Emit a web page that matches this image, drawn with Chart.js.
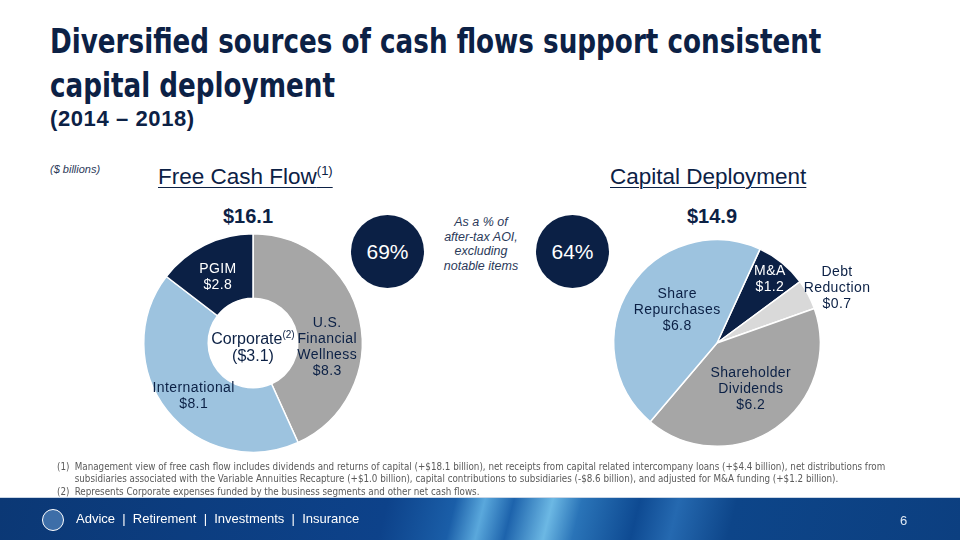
<!DOCTYPE html>
<html lang="en">

<head>
  <meta charset="UTF-8">
  <title>Diversified sources of cash flows</title>
  <script src="https://cdn.jsdelivr.net/npm/chart.js"></script>
  <style>
    body {
      margin: 0;
      width: 960px;
      height: 540px;
      position: relative;
      overflow: hidden;
      background: #fff;
      font-family: "Liberation Sans", Arial, sans-serif;
      color: #0c2145;
    }
    .abs { position: absolute; }
    .title {
      left: 50px; top: 20px;
      font-family: "DejaVu Sans Condensed", "Liberation Sans", sans-serif;
      font-weight: bold; font-size: 33px; line-height: 44px;
      white-space: nowrap;
      transform: scaleX(0.883); transform-origin: left top;
    }
    .subtitle { left: 50px; top: 106px; font-weight: bold; font-size: 22px; letter-spacing: 0.6px; }
    .units { left: 50px; top: 163px; font-style: italic; font-size: 11px; color: #2b3a5a; }
    .head { font-size: 22.5px; text-decoration: underline; text-underline-offset: 3px; text-decoration-thickness: 1px; }
    .head sup { font-size: 13px; vertical-align: 9px; line-height: 0; }
    .total { font-weight: bold; font-size: 20px; width: 100px; text-align: center; }
    .pct {
      width: 73px; height: 73px; border-radius: 50%; background: #0b2045;
      color: #fff; font-size: 21px; line-height: 73px; text-align: center;
    }
    .note { left: 426px; top: 215px; width: 110px; text-align: center; font-style: italic; font-size: 12.5px; line-height: 14.7px; color: #2b3a5a; }
    .corp { left: 203px; top: 330px; width: 100px; text-align: center; font-size: 16px; line-height: 17px; }
    .corp sup { font-size: 10px; vertical-align: 6px; line-height: 0; }
    .foot {
      left: 57px; font-family: "DejaVu Sans Condensed", "Liberation Sans", sans-serif;
      font-size: 11px; line-height: 12.4px; color: #5a5a5a;
      white-space: nowrap;
      transform: scaleX(0.886); transform-origin: left top;
    }
    .foot span { display: inline-block; width: 20px; }
    .band {
      left: 0; top: 497px; width: 960px; height: 43px;
      background: linear-gradient(104deg, #0b3875 0%, #0d428a 40%, #1a5ea8 47%, #5aa8dc 50%, #1d63ac 53%, #6cb8e4 57%, #2a74b8 60%, #0e4a92 66%, #2569b0 70%, #0d4589 76%, #0c3f80 100%);
      border-top: 1px solid #c9d6e6;
    }
    .logo { left: 42px; top: 509px; width: 20px; height: 20px; border-radius: 50%; border: 1.5px solid #fff; background: #3d6ea8; }
    .tag { left: 76px; top: 511px; color: #fff; font-size: 13px; }
    .page { left: 900px; top: 513px; color: #dfe8f3; font-size: 13px; }
  </style>
</head>

<body>
  <div class="abs title">Diversified sources of cash flows support consistent<br>capital deployment</div>
  <div class="abs subtitle">(2014 – 2018)</div>
  <div class="abs units">($ billions)</div>

  <div class="abs head" style="left:158px; top:164px;">Free Cash Flow<sup>(1)</sup></div>
  <div class="abs head" style="left:610px; top:164px;">Capital Deployment</div>

  <div class="abs total" id="fcfTotal" style="left:198px; top:205px;"></div>
  <div class="abs total" id="deployTotal" style="left:662px; top:205px;"></div>

  <div class="abs pct" id="pctLeft" style="left:351px; top:215px;"></div>
  <div class="abs pct" id="pctRight" style="left:536px; top:215px;"></div>
  <div class="abs note">As a % of<br>after-tax AOI,<br>excluding<br>notable items</div>

  <canvas class="abs" id="fcfChart" width="240" height="240" style="left:133px; top:223px;"></canvas>
  <canvas class="abs" id="deployChart" width="290" height="226" style="left:590px; top:230px;"></canvas>

  <div class="abs corp" id="corp"></div>

  <div class="abs foot" style="top:461px;"><span>(1)</span>Management view of free cash flow includes dividends and returns of capital (+$18.1 billion), net receipts from capital related intercompany loans (+$4.4 billion), net distributions from<br><span></span>subsidiaries associated with the Variable Annuities Recapture (+$1.0 billion), capital contributions to subsidiaries (-$8.6 billion), and adjusted for M&amp;A funding (+$1.2 billion).<br><span>(2)</span>Represents Corporate expenses funded by the business segments and other net cash flows.</div>

  <div class="abs band"></div>
  <div class="abs logo"></div>
  <div class="abs tag">Advice &nbsp;|&nbsp; Retirement &nbsp;|&nbsp; Investments &nbsp;|&nbsp; Insurance</div>
  <div class="abs page">6</div>

  <script>
    // Free cash flow by segment ($ billions)
    const fcfCategories = ['U.S. Financial Wellness', 'International', 'PGIM'];
    const fcfValues = [8.3, 8.1, 2.8];
    const fcfTotal = 16.1;
    const corporateValue = -3.1;

    // Capital deployment ($ billions)
    const deployCategories = ['M&A', 'Debt Reduction', 'Shareholder Dividends', 'Share Repurchases'];
    const deployValues = [1.2, 0.7, 6.2, 6.8];
    const deployTotal = 14.9;

    // share of after-tax AOI, excluding notable items
    const aoiShare = [69, 64];

    const navy = '#0b2045';
    const money = v => '$' + v.toFixed(1);

    document.getElementById('fcfTotal').textContent = money(fcfTotal);
    document.getElementById('deployTotal').textContent = money(deployTotal);
    document.getElementById('pctLeft').textContent = aoiShare[0] + '%';
    document.getElementById('pctRight').textContent = aoiShare[1] + '%';
    document.getElementById('corp').innerHTML = 'Corporate<sup>(2)</sup><br>($' + Math.abs(corporateValue).toFixed(1) + ')';

    // draws the category name and value inside (or beside) each slice
    const sliceLabels = {
      id: 'sliceLabels',
      afterDatasetsDraw(chart, args, opts) {
        const ctx = chart.ctx;
        const meta = chart.getDatasetMeta(0);
        meta.data.forEach((arc, i) => {
          const p = opts.place[i];
          const mid = (arc.startAngle + arc.endAngle) / 2 + p.turn * Math.PI / 180;
          const r = arc.outerRadius * p.r;
          const x = arc.x + Math.cos(mid) * r;
          const y = arc.y + Math.sin(mid) * r;
          const lines = opts.lines[i].concat(money(chart.data.datasets[0].data[i]));
          ctx.save();
          ctx.font = '14px "Liberation Sans", Arial, sans-serif';
          ctx.letterSpacing = '0.4px';
          ctx.fillStyle = p.color;
          ctx.textAlign = 'center';
          ctx.textBaseline = 'middle';
          lines.forEach((t, j) => ctx.fillText(t, x, y + (j - (lines.length - 1) / 2) * 16));
          ctx.restore();
        });
      }
    };

    const baseOptions = (padding, extra) => Object.assign({
      responsive: false,
      animation: false,
      layout: { padding: padding },
      plugins: { legend: { display: false }, tooltip: { enabled: false } }
    }, extra);

    new Chart(document.getElementById('fcfChart'), {
      type: 'doughnut',
      data: {
        labels: fcfCategories,
        datasets: [{
          data: fcfValues,
          backgroundColor: ['#a6a6a6', '#9dc3df', navy],
          borderColor: '#ffffff',
          borderWidth: 1.5
        }]
      },
      options: baseOptions(10, {
        cutout: '41%',
        plugins: {
          legend: { display: false },
          tooltip: { enabled: false },
          sliceLabels: {
            lines: [['U.S.', 'Financial', 'Wellness'], ['International'], ['PGIM']],
            place: [
              { turn: 15, r: 0.68, color: navy },
              { turn: -3.5, r: 0.73, color: navy },
              { turn: -2, r: 0.68, color: '#ffffff' }
            ]
          }
        }
      }),
      plugins: [sliceLabels]
    });

    new Chart(document.getElementById('deployChart'), {
      type: 'pie',
      data: {
        labels: deployCategories,
        datasets: [{
          data: deployValues,
          backgroundColor: [navy, '#d9d9d9', '#a6a6a6', '#9dc3df'],
          borderColor: '#ffffff',
          borderWidth: 1.5
        }]
      },
      options: baseOptions({ left: 23, right: 59, top: 9, bottom: 9 }, {
        rotation: 24.6,
        plugins: {
          legend: { display: false },
          tooltip: { enabled: false },
          sliceLabels: {
            lines: [['M&A'], ['Debt', 'Reduction'], ['Shareholder', 'Dividends'], ['Share', 'Repurchases']],
            place: [
              { turn: 0.7, r: 0.8, color: '#ffffff' },
              { turn: 3.2, r: 1.28, color: navy },
              { turn: -1.9, r: 0.55, color: navy },
              { turn: 7, r: 0.5, color: navy }
            ]
          }
        }
      }),
      plugins: [sliceLabels]
    });
  </script>
</body>

</html>
